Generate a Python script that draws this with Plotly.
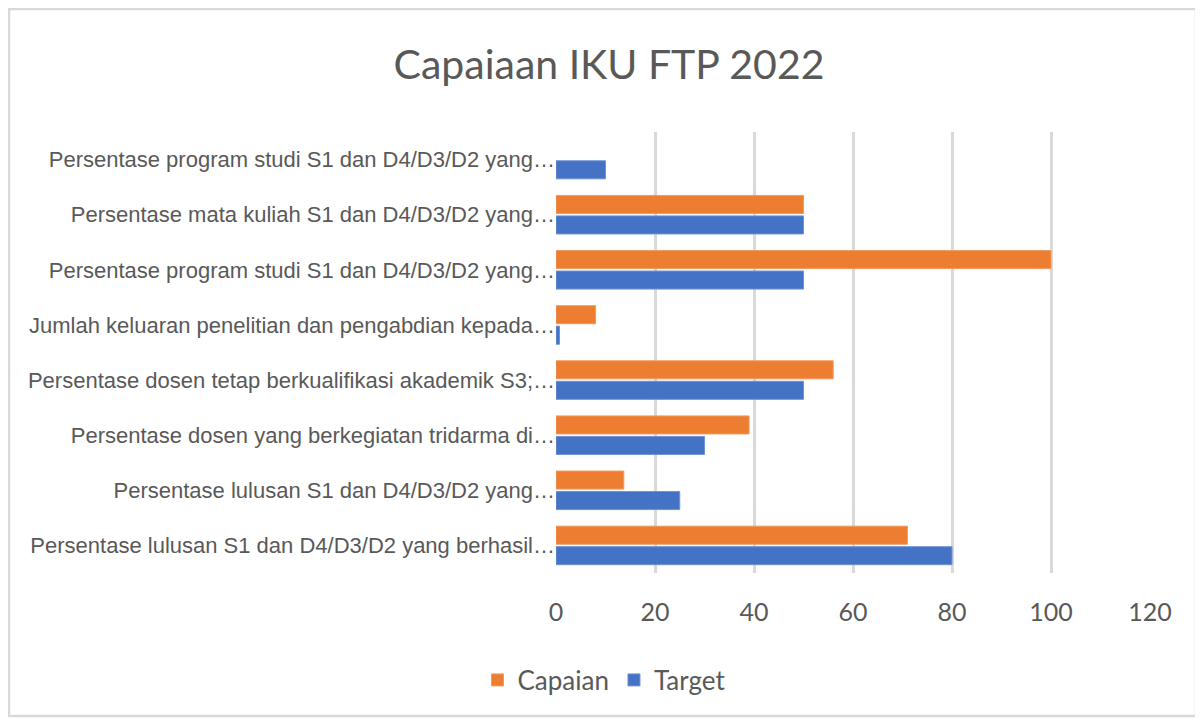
import plotly.graph_objects as go

categories = [
    "Persentase lulusan S1 dan D4/D3/D2 yang berhasil…",
    "Persentase lulusan S1 dan D4/D3/D2 yang…",
    "Persentase dosen yang berkegiatan tridarma di…",
    "Persentase dosen tetap berkualifikasi akademik S3;…",
    "Jumlah keluaran penelitian dan pengabdian kepada…",
    "Persentase program studi S1 dan D4/D3/D2 yang…",
    "Persentase mata kuliah S1 dan D4/D3/D2 yang…",
    "Persentase program studi S1 dan D4/D3/D2 yang…",
]
capaian = [71, 13.7, 39, 56, 8, 100, 50, None]
target = [80, 25, 30, 50, 0.7, 50, 50, 10]
x_ticks = [0, 20, 40, 60, 80, 100, 120]

OFF = 8  # page body margin
W, H = 1203 - OFF, 722 - OFF
L, R, T, B = 556 - OFF, 1150 - OFF, 132 - OFF, 573 - OFF
pw, ph = R - L, B - T

positions = list(range(len(categories)))
grey = "#595959"

fig = go.Figure()
fig.add_trace(go.Bar(
    y=positions, x=target, orientation="h", name="Target",
    marker=dict(color="#4472C4", line=dict(color="#6f93d6", width=1)),
))
fig.add_trace(go.Bar(
    y=positions, x=capaian, orientation="h", name="Capaian",
    marker=dict(color="#ED7D31", line=dict(color="#f29a5c", width=1)),
))

def px_x(p):
    return (p - OFF - L) / pw

def px_y(p):
    return (B - (p - OFF)) / ph

fig.add_shape(type="rect", xref="paper", yref="paper",
              x0=px_x(9), x1=px_x(1196), y0=px_y(716), y1=px_y(9),
              line=dict(color="#d9d9d9", width=2.5), layer="below")

fig.update_layout(
    width=W, height=H,
    margin=dict(l=L, r=W - R, t=T, b=H - B, autoexpand=False),
    paper_bgcolor="white", plot_bgcolor="white",
    barmode="group", bargap=0.256, bargroupgap=0.12,
    title=dict(text="Capaiaan IKU FTP 2022", x=(609 - OFF) / W, xanchor="center",
               y=1 - (65 - OFF) / H, yanchor="middle", xref="container", yref="container",
               font=dict(family="Lato, Open Sans, sans-serif", size=41, color=grey)),
    legend=dict(orientation="h", traceorder="reversed", x=px_x(604), xanchor="center",
                y=px_y(680), yanchor="middle",
                font=dict(family="Lato, Open Sans, sans-serif", size=26, color=grey),
                itemwidth=30),
    showlegend=True,
)
fig.update_xaxes(
    range=[0, 120], tickvals=x_ticks, showgrid=True, gridcolor="#d9d9d9", gridwidth=2.5,
    zeroline=False, showline=False, ticks="", ticklabelstandoff=22,
    tickfont=dict(family="Lato, Open Sans, sans-serif", size=25, color=grey),
)
fig.update_yaxes(
    range=[-0.5, len(categories) - 0.5], tickvals=positions, ticktext=categories,
    showgrid=False, zeroline=False, showline=False, ticks="",
    tickfont=dict(family="Liberation Sans, Arial, sans-serif", size=22, color=grey),
)

fig.write_html("out.html")
